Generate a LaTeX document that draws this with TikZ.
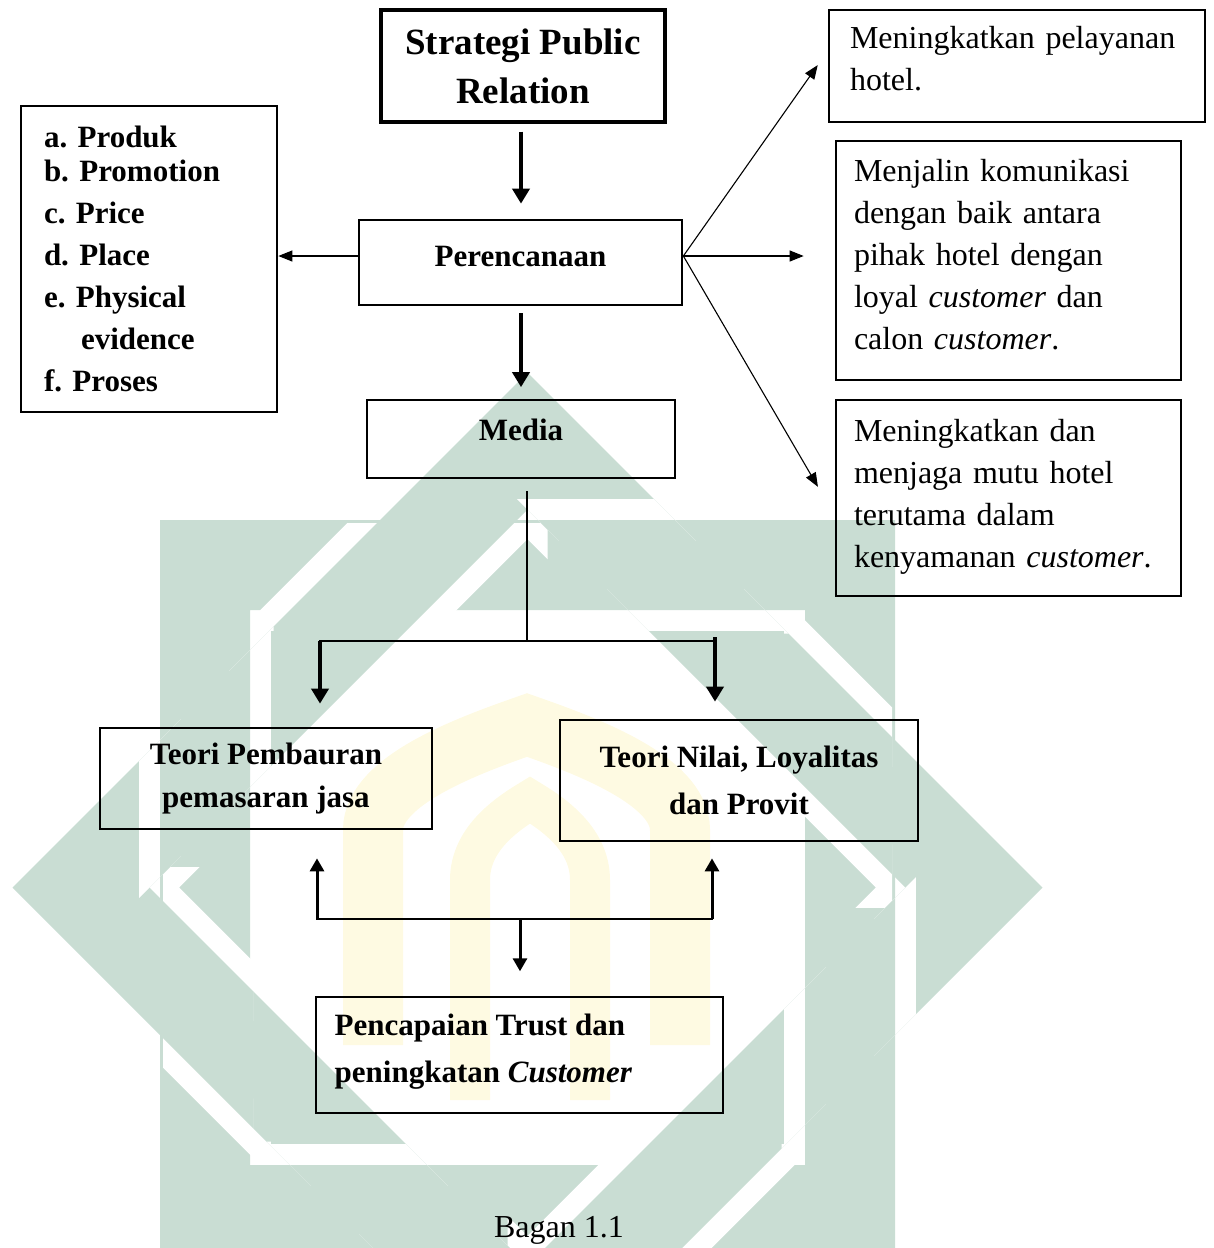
\documentclass[tikz,border=0pt]{standalone}
\usepackage{fontspec}
\setmainfont{Liberation Serif}
\usetikzlibrary{arrows.meta,positioning}
\definecolor{wmgreen}{RGB}{201,221,211}
\definecolor{wmyellow}{RGB}{254,250,226}
\newcommand{\headfont}{\fontsize{15.5}{21}\selectfont\bfseries}
\newcommand{\notefont}{\fontsize{16}{21}\selectfont}
\frenchspacing

\begin{document}
\begin{tikzpicture}[x=0.5pt, y=-0.5pt,
    box/.style={draw, line width=1.35pt, inner sep=0pt},
    head/.style={font=\headfont, align=center},
    note/.style={font=\notefont, align=left},
    bigarrow/.style={-{Triangle[length=7.5pt,width=8.5pt]}, line width=2pt},
    midarrow/.style={-{Triangle[length=6.5pt,width=7pt]}, line width=1.5pt},
    thinarrow/.style={-{Triangle[length=7pt,width=5.5pt]}, line width=0.55pt},
    link/.style={line width=1.4pt, line cap=rect},
    sqring/.style={insert path={(-367.5,-367.5) rectangle (367.5,367.5) (-277.5,-277.5) rectangle (277.5,277.5)}},
    dmring/.style={insert path={(0,-515) -- (515,0) -- (0,515) -- (-515,0) -- cycle (0,-378) -- (378,0) -- (0,378) -- (-378,0) -- cycle}}]
\useasboundingbox (0,0) rectangle (1214,1248);

% watermark
\begin{scope}
  \clip (0,0) rectangle (1214,1248);
  \begin{scope}[shift={(527.5,887.5)}]
    \path[sqring, fill=wmgreen, even odd rule];
    \path[dmring, fill=wmgreen, even odd rule];
    \foreach \k in {0,90,180,270} {
      \begin{scope}[rotate=\k]
        \begin{scope}
          \clip (-285,-364.5) rectangle (20,-274.5);
          \path[dmring, draw=white, line width=21pt];
          \path[dmring, fill=wmgreen, even odd rule];
        \end{scope}
        \begin{scope}
          \clip (-22,-400) -- (115,-400) -- (261,-254) -- (124,-254) -- cycle;
          \path[sqring, draw=white, line width=21pt];
          \path[sqring, fill=wmgreen, even odd rule];
        \end{scope}
      \end{scope}
    }
  \end{scope}
  % gate
  \draw[wmyellow, line width=30pt] (373,1045) -- (373,830) .. controls (373,780) and (470,745) .. (527,725) .. controls (584,745) and (680,780) .. (680,830) -- (680,1045);
  \draw[wmyellow, line width=20pt] (470,1100) -- (470,880) .. controls (470,840) and (505,815) .. (530,800) .. controls (555,815) and (590,840) .. (590,880) -- (590,1100);
\end{scope}

% boxes
\node[box, head, line width=1.6pt, font=\fontsize{18.5}{24.5}\selectfont\bfseries, minimum width=142pt, minimum height=56pt] (strategy) at (523,66) {Strategi Public\\Relation};
\node[box, font=\headfont, align=left, text width=105pt, inner xsep=11.5pt, minimum height=153pt] (mix) at (149,259) {a. Produk\\[-4pt] b. Promotion\\ c. Price\\ d. Place\\ e. Physical\\ \hspace*{18.5pt}evidence\\ f. Proses};
\node[box, head, minimum width=161.5pt, minimum height=42.5pt, text depth=6.5pt] (plan) at (520.5,262.5) {Perencanaan};
\node[box, head, minimum width=154pt, minimum height=39pt, text depth=9pt] (media) at (521,439) {Media};
\node[box, note, text width=167pt, inner xsep=10.5pt, minimum height=56pt] (serve) at (1017,66) {Meningkatkan pelayanan\\ hotel.\\[-13.3pt]\mbox{}};
\node[box, note, text width=154.5pt, inner xsep=9pt, minimum height=119.5pt] (comm) at (1008.5,260.5) {Menjalin komunikasi\\ dengan baik antara\\ pihak hotel dengan\\ loyal \textit{customer} dan\\ calon \textit{customer}.\\[-15.3pt]\mbox{}};
\node[box, note, text width=154.5pt, inner xsep=9pt, minimum height=98pt] (quality) at (1008.5,498) {Meningkatkan dan\\ menjaga mutu hotel\\ terutama dalam\\ kenyamanan \textit{customer}.\\[-16.5pt]\mbox{}};
\node[box, head, font=\fontsize{15.5}{21.5}\selectfont\bfseries, minimum width=166pt, minimum height=50.5pt] (mixth) at (266,778.5) {Teori Pembauran\\ pemasaran jasa};
\node[box, head, font=\fontsize{15.5}{23.5}\selectfont\bfseries, minimum width=179pt, minimum height=60.5pt] (valth) at (739,780.5) {Teori Nilai, Loyalitas\\ dan Provit};
\node[box, line width=0.7pt, minimum width=203.5pt, minimum height=58pt] (goal) at (519.5,1055) {};
\node[font=\fontsize{15.5}{23.5}\selectfont\bfseries, align=left, anchor=north west, inner sep=0pt] (goaltext) at ([xshift=9.5pt,yshift=-8.4pt]goal.north west) {Pencapaian Trust dan\\ peningkatan \textit{Customer}};
\node[font=\notefont] (caption) at (559,1230) {Bagan 1.1};

% arrows
\draw[bigarrow, shorten <=4pt, shorten >=7.5pt] (media.north |- strategy.south) -- (media.north |- plan.north);
\draw[bigarrow, shorten <=3.5pt, shorten >=5.75pt] (media.north |- plan.south) -- (media.north);
\coordinate (hubl) at ([yshift=3.25pt]plan.west);
\coordinate (hubr) at ([yshift=3.25pt]plan.east);
\draw[thinarrow] (hubl) -- (hubl -| mix.east);
\draw[thinarrow, shorten >=8.6pt] (hubr) -- ([yshift=7.5pt]serve.west);
\draw[thinarrow, shorten >=15.5pt] (hubr) -- (hubr -| comm.west);
\draw[thinarrow, shorten >=16.6pt] (hubr) -- ([yshift=-8.75pt]quality.west);

% fork
\coordinate (fork) at (527,641);
\coordinate (forkl) at (320,641);
\coordinate (forkr) at (715,641);
\draw[link, line width=0.9pt] (media.south -| fork) ++(0,13) -- (fork);
\draw[link] (forkl) -- (forkr);
\draw[bigarrow, shorten >=11.5pt] (forkl) -- (forkl |- mixth.north);
\draw[bigarrow, shorten >=8.5pt] (forkr) ++(0,-4) -- (forkr |- valth.north);

% join
\coordinate (join) at (520,919);
\coordinate (joinl) at (317,919);
\coordinate (joinr) at (712,919);
\draw[link] (joinl) -- (joinr);
\draw[midarrow, shorten >=14pt] (joinl) -- (joinl |- mixth.south);
\draw[midarrow, shorten >=8pt] (joinr) -- (joinr |- valth.south);
\draw[midarrow, shorten >=12.5pt] (join) -- (join |- goal.north);
\end{tikzpicture}
\end{document}
